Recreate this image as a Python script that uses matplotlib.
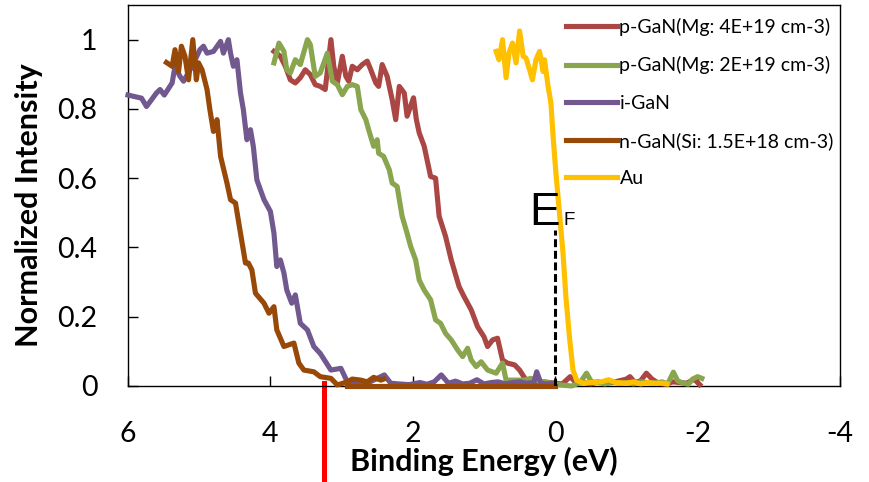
import matplotlib
matplotlib.use("Agg")
import matplotlib.pyplot as plt

# valence band edge spectra, binding energy (eV) vs normalized intensity
P_GAN_4E19_X = [3.95, 3.86, 3.79, 3.72, 3.65, 3.58, 3.51, 3.44, 3.37, 3.30, 3.23, 3.15, 3.11,
                3.06, 2.99, 2.94, 2.90, 2.85, 2.78, 2.71, 2.64, 2.59, 2.52, 2.48, 2.43, 2.36,
                2.29, 2.24, 2.19, 2.12, 2.08, 1.99, 1.95, 1.91, 1.84, 1.75, 1.68, 1.63, 1.54,
                1.46, 1.35, 1.28, 1.18, 1.09, 1.00, 0.95, 0.88, 0.81, 0.74, 0.67, 0.57, 0.50,
                0.41, 0.29, 0.15, 0.01, -0.10, -0.21, -0.30, -0.40, -0.50, -0.60, -0.70, -0.80,
                -0.90, -1.00, -1.05, -1.12, -1.20, -1.28, -1.36, -1.45, -1.55, -1.65, -1.75,
                -1.85, -1.95, -2.03]
P_GAN_4E19_Y = [0.966, 0.952, 0.923, 0.884, 0.875, 0.890, 0.913, 0.899, 0.870, 0.865, 0.856,
                1.000, 0.923, 0.875, 0.952, 0.894, 0.880, 0.923, 0.913, 0.928, 0.938, 0.913,
                0.875, 0.865, 0.928, 0.894, 0.827, 0.769, 0.865, 0.846, 0.779, 0.832, 0.769,
                0.731, 0.692, 0.605, 0.600, 0.490, 0.432, 0.364, 0.287, 0.258, 0.220, 0.171,
                0.142, 0.114, 0.133, 0.138, 0.075, 0.066, 0.061, 0.046, 0.017, 0.008, 0.012,
                0.008, 0.006, 0.027, 0.008, 0.010, 0.006, 0.012, 0.008, 0.010, 0.015, 0.020,
                0.027, 0.010, 0.015, 0.037, 0.020, 0.008, 0.005, 0.012, 0.010, 0.008, 0.020,
                0.004]

P_GAN_2E19_X = [3.95, 3.88, 3.81, 3.77, 3.72, 3.65, 3.58, 3.48, 3.44, 3.37, 3.30, 3.20, 3.13,
                3.06, 2.99, 2.92, 2.85, 2.78, 2.73, 2.66, 2.62, 2.55, 2.50, 2.48, 2.41, 2.33,
                2.29, 2.22, 2.15, 2.08, 2.03, 1.96, 1.91, 1.84, 1.75, 1.68, 1.61, 1.54, 1.46,
                1.37, 1.30, 1.23, 1.18, 1.11, 1.04, 0.95, 0.83, 0.74, 0.69, 0.57, 0.44, 0.34,
                0.20, 0.06, -0.08, -0.23, -0.35, -0.44, -0.51, -0.60, -0.70, -0.80, -0.90,
                -1.00, -1.10, -1.20, -1.30, -1.40, -1.50, -1.58, -1.66, -1.72, -1.80, -1.87,
                -1.93, -2.00, -2.06]
P_GAN_2E19_Y = [0.933, 0.990, 0.966, 0.913, 0.904, 0.942, 0.928, 1.000, 0.986, 0.894, 0.904,
                0.961, 0.880, 0.870, 0.841, 0.865, 0.870, 0.865, 0.798, 0.769, 0.740, 0.692,
                0.711, 0.672, 0.663, 0.624, 0.586, 0.576, 0.490, 0.441, 0.403, 0.364, 0.306,
                0.277, 0.249, 0.191, 0.181, 0.152, 0.133, 0.104, 0.085, 0.109, 0.075, 0.056,
                0.070, 0.046, 0.037, 0.066, 0.017, 0.017, 0.017, 0.022, 0.012, 0.008, 0.003,
                0.000, 0.010, 0.037, 0.012, 0.010, 0.006, 0.012, 0.008, 0.010, 0.006, 0.012,
                0.010, 0.008, 0.012, 0.006, 0.040, 0.015, 0.008, 0.005, 0.020, 0.027, 0.022]

I_GAN_X = [6.00, 5.81, 5.74, 5.60, 5.55, 5.49, 5.38, 5.34, 5.27, 5.22, 5.10, 4.99, 4.94, 4.89,
           4.80, 4.70, 4.66, 4.59, 4.56, 4.52, 4.47, 4.42, 4.38, 4.33, 4.28, 4.24, 4.19, 4.09,
           4.00, 3.95, 3.91, 3.86, 3.81, 3.77, 3.70, 3.65, 3.58, 3.48, 3.39, 3.30, 3.15, 3.01,
           2.92, 2.83, 2.64, 2.40, 2.31, 2.20, 2.05, 1.90, 1.80, 1.70, 1.60, 1.50, 1.40, 1.30,
           1.20, 1.10, 1.00, 0.90, 0.80, 0.70, 0.60, 0.50, 0.40, 0.30, 0.26, 0.20, 0.10, 0.02]
I_GAN_Y = [0.840, 0.831, 0.807, 0.846, 0.856, 0.840, 0.875, 0.923, 0.894, 0.880, 0.923, 0.971,
           0.981, 0.961, 0.966, 0.995, 0.961, 1.000, 0.961, 0.923, 0.942, 0.846, 0.798, 0.711,
           0.740, 0.692, 0.595, 0.538, 0.504, 0.441, 0.345, 0.364, 0.326, 0.277, 0.239, 0.263,
           0.181, 0.162, 0.114, 0.094, 0.046, 0.051, 0.012, 0.008, 0.008, 0.032, 0.008, 0.006,
           0.004, 0.010, 0.005, 0.012, 0.032, 0.008, 0.014, 0.006, 0.008, 0.018, 0.006, 0.010,
           0.012, 0.006, 0.010, 0.012, 0.008, 0.010, 0.041, 0.008, 0.006, 0.008]

N_GAN_X = [5.46, 5.38, 5.34, 5.29, 5.25, 5.20, 5.15, 5.09, 5.04, 5.01, 4.96, 4.89, 4.85, 4.80,
           4.75, 4.70, 4.61, 4.56, 4.49, 4.42, 4.35, 4.31, 4.26, 4.21, 4.09, 4.02, 3.95, 3.91,
           3.81, 3.67, 3.60, 3.53, 3.39, 3.30, 3.15, 3.06, 2.92, 2.85, 2.73, 2.64, 2.55, 2.45,
           2.41]
N_GAN_Y = [0.934, 0.923, 0.971, 0.908, 0.981, 0.952, 0.884, 1.000, 0.884, 0.933, 0.913, 0.856,
           0.798, 0.735, 0.769, 0.663, 0.586, 0.538, 0.528, 0.441, 0.355, 0.355, 0.335, 0.268,
           0.239, 0.210, 0.229, 0.162, 0.114, 0.124, 0.066, 0.046, 0.041, 0.027, 0.022, 0.003,
           0.012, 0.020, 0.017, 0.012, 0.025, 0.017, 0.020]
# n-GaN baseline segment (zero counts)
N_GAN_BASE_X = [2.92, 0.00]
N_GAN_BASE_Y = [0.0, 0.0]

AU_X = [0.83, 0.79, 0.74, 0.69, 0.65, 0.60, 0.55, 0.50, 0.45, 0.41, 0.36, 0.32, 0.27, 0.22,
        0.17, 0.15, 0.10, 0.06, 0.03, -0.01, -0.06, -0.11, -0.15, -0.20, -0.25, -0.30, -0.39,
        -0.50, -0.65, -0.75, -0.85, -1.00, -1.10, -1.20, -1.30, -1.40, -1.50, -1.57]
AU_Y = [0.966, 0.942, 1.000, 0.890, 0.961, 0.990, 0.933, 1.025, 0.952, 0.947, 0.913, 0.884,
        0.942, 0.966, 0.908, 0.942, 0.865, 0.817, 0.721, 0.615, 0.499, 0.383, 0.258, 0.142,
        0.046, 0.017, 0.008, 0.010, 0.012, 0.018, 0.010, 0.008, 0.012, 0.006, 0.010, 0.008,
        0.008, 0.006]

LABELS = ["p-GaN(Mg: 4E+19 cm-3)", "p-GaN(Mg: 2E+19 cm-3)", "i-GaN",
          "n-GaN(Si: 1.5E+18 cm-3)", "Au"]
COLORS = ["#AA4643", "#89A54E", "#71588F", "#984807", "#FFC000"]

X_TICKS = [6, 4, 2, 0, -2, -4]
X_TICK_LABELS = ["6", "4", "2", "0", "-2", "-4"]
Y_TICKS = [0, 0.2, 0.4, 0.6, 0.8, 1.0]
Y_TICK_LABELS = ["0", "0.2", "0.4", "0.6", "0.8", "1"]

FERMI_LEVEL = 0.0
FERMI_MARK_HEIGHT = 0.45
EDGE_MARKER = 3.25


def main():
    plt.rcParams["font.family"] = ["Lato", "DejaVu Sans"]

    fig = plt.figure(figsize=(8.69, 4.82), dpi=100)
    ax = fig.add_axes([128 / 869, 96 / 482, 712 / 869, 381 / 482])

    series = [
        (P_GAN_4E19_X, P_GAN_4E19_Y),
        (P_GAN_2E19_X, P_GAN_2E19_Y),
        (I_GAN_X, I_GAN_Y),
        (N_GAN_X, N_GAN_Y),
        (AU_X, AU_Y),
    ]
    handles = []
    for (xs, ys), label, color in zip(series, LABELS, COLORS):
        if label.startswith("n-GaN"):
            ax.plot(N_GAN_BASE_X, N_GAN_BASE_Y, color=color, lw=3.7,
                    clip_on=False, zorder=3)
        line, = ax.plot(xs, ys, color=color, lw=3.7, label=label,
                        clip_on=False, solid_joinstyle="round", zorder=3)
        handles.append(line)
    # Au on top
    handles[-1].set_zorder(4)

    # Fermi level marker
    ax.plot([FERMI_LEVEL, FERMI_LEVEL], [0, FERMI_MARK_HEIGHT], color="black",
            lw=2.2, linestyle=(0, (2.6, 1.2)), zorder=3.5)
    ax.text(FERMI_LEVEL - 0.06, FERMI_MARK_HEIGHT + 0.015, "E", fontsize=33,
            family="Liberation Sans", ha="right", va="baseline", zorder=5)
    ax.text(FERMI_LEVEL - 0.115, FERMI_MARK_HEIGHT + 0.016, "F", fontsize=13.5,
            family="Liberation Sans", ha="left", va="baseline", zorder=5)

    # valence band edge marker, running below the axis
    ax.plot([EDGE_MARKER, EDGE_MARKER], [0.01, -0.4], color="#FF0000", lw=3.6,
            clip_on=False, zorder=2)

    ax.set_xlim(6, -4)
    ax.set_ylim(0, 1.1)
    ax.set_xticks(X_TICKS)
    ax.set_xticklabels(X_TICK_LABELS)
    ax.set_yticks(Y_TICKS)
    ax.set_yticklabels(Y_TICK_LABELS)
    ax.tick_params(axis="both", direction="in", length=7, width=1.0,
                   labelsize=20.5, color="black")
    ax.tick_params(axis="x", pad=25)
    ax.tick_params(axis="y", pad=22)
    for spine in ax.spines.values():
        spine.set_linewidth(1.0)
        spine.set_color("black")

    ax.set_xlabel("Binding Energy (eV)", fontsize=22, fontweight="bold", labelpad=0)
    ax.set_ylabel("Normalized Intensity", fontsize=22, fontweight="bold")
    ax.yaxis.set_label_coords(-0.119, 0.475)

    fig.legend(handles=handles, loc="upper left", bbox_to_anchor=(566 / 869, 1 - 18 / 482),
               frameon=False, fontsize=14, handlelength=2.6, handletextpad=0.15,
               labelspacing=1.04, borderpad=0, borderaxespad=0)

    fig.savefig("out.png", dpi=100, facecolor="white")
    return 0


if __name__ == "__main__":
    main()
